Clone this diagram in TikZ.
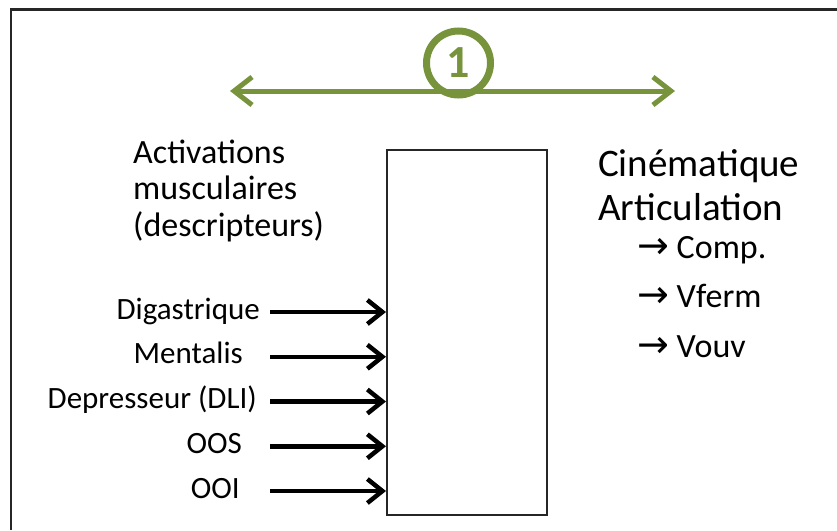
\documentclass[tikz,border=0pt]{standalone}
\usepackage{fontspec}
\setmainfont{Carlito}
\newfontfamily\arrowfont{DejaVu Sans}
\usetikzlibrary{arrows.meta, positioning}
\definecolor{olivegreen}{RGB}{119,147,60}

\begin{document}
\begin{tikzpicture}[x=1pt, y=-1pt,
            block/.style={draw=black!85, line width=2pt, minimum width=160pt, minimum height=365pt, inner sep=0pt},
            inlabel/.style={anchor=base east, inner sep=0pt, font=\fontsize{31}{35}\selectfont},
            inarrow/.style={-{Straight Barb[length=15pt, width=24pt]}, line width=4.5pt},
            greenarrow/.style={{Straight Barb[length=18pt, width=28pt]}-{Straight Barb[length=18pt, width=28pt]}, line width=5pt, color=olivegreen},
            stepcircle/.style={circle, draw=olivegreen, fill=white, line width=7pt, minimum size=64pt, inner sep=0pt, text=olivegreen, font=\fontsize{46}{50}\selectfont\bfseries},
            outitem/.style={anchor=base west, inner sep=0pt, font=\fontsize{34}{38}\selectfont}
        ]
            \useasboundingbox (0,0) rectangle (837,530);
            % Frame
            \draw[line width=2.2pt, black!85] (11,530) |- (837,9.5);

            % Step marker
            \node[stepcircle] (step1) at (458.5,63) {1};
            \coordinate (gleft) at (230,91);
            \coordinate (gright) at (675,91);
            \draw[greenarrow] (gleft) -- (gright);

            % Model block
            \node[block] (model) at (467,332) {};

            % Input descriptors
            \node[anchor=base west, align=left, inner sep=0pt, font=\fontsize{34}{36.5}\selectfont] (actlbl) at (133,236) {Activations\\musculaires\\(descripteurs)};
            \foreach \name/\txt/\xend [count=\i] in {digastrique/Digastrique/260, mentalis/Mentalis/243, dli/Depresseur (DLI)/257, oos/OOS/242, ooi/OOI/240} {
                \pgfmathsetmacro\yin{312+(\i-1)*44.75}
                \coordinate (\name) at (270,\yin);
                \node[inlabel] (\name-lbl) at (\xend,\yin+7) {\txt};
                \draw[inarrow] (\name) -- (\name -| model.west);
            }

            % Output kinematics
            \node[anchor=base west, align=left, inner sep=0pt, font=\fontsize{39}{44}\selectfont] (kinlbl) at (598,220) {Cinématique\\Articulation};
            \node[outitem] (comp) at (637,258) {{\arrowfont\fontsize{38}{40}\selectfont →} Comp.};
            \node[outitem] (vferm) at (637,307) {{\arrowfont\fontsize{38}{40}\selectfont →} Vferm};
            \node[outitem] (vouv) at (637,357) {{\arrowfont\fontsize{38}{40}\selectfont →} Vouv};
        \end{tikzpicture}
\end{document}
